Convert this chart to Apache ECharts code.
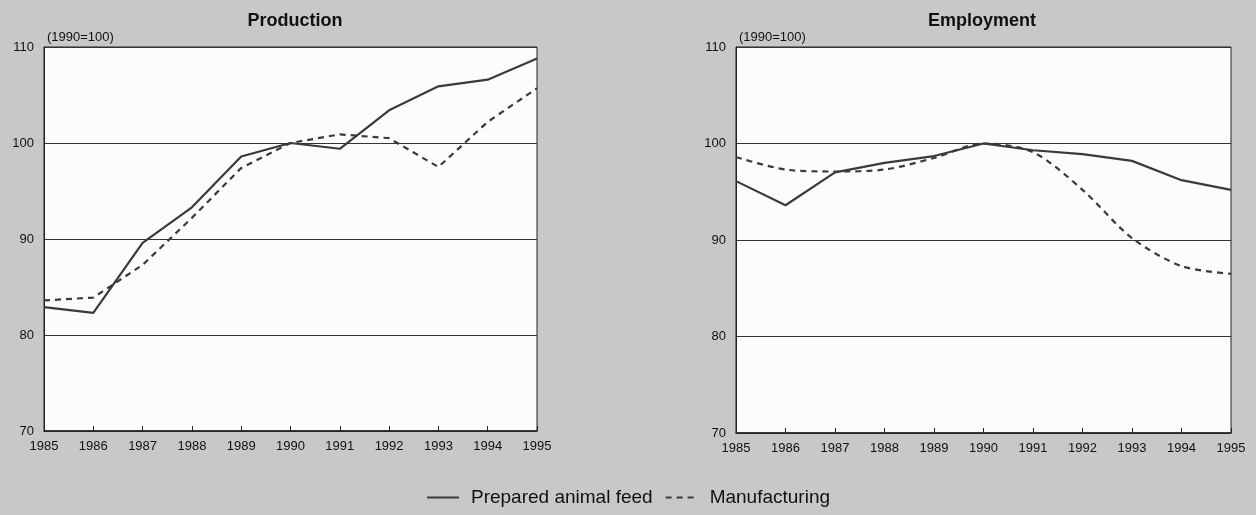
<!DOCTYPE html>
<html><head><meta charset="utf-8">
<script src="https://cdn.jsdelivr.net/npm/echarts@6/dist/echarts.min.js"></script>
<style>html,body{margin:0;padding:0;background:#c8c8c8;}#c{width:1256px;height:515px;}</style>
</head><body><div id="c"></div>
<script>
const years = ['1985','1986','1987','1988','1989','1990','1991','1992','1993','1994','1995'];
const yTicks = [70, 80, 90, 100, 110];
const prodFeed = [82.9, 82.3, 89.6, 93.3, 98.6, 100.0, 99.4, 103.4, 105.9, 106.6, 108.8];
const prodMfg  = [83.6, 83.9, 87.3, 92.2, 97.4, 100.0, 100.9, 100.5, 97.5, 102.2, 105.7];
const empFeed  = [96.1, 93.6, 97.0, 98.0, 98.7, 100.0, 99.3, 98.9, 98.2, 96.2, 95.2];
const empMfg   = [98.6, 97.3, 97.1, 97.3, 98.5, 100.0, 99.1, 95.2, 90.2, 87.3, 86.5];
const seriesNames = ['Prepared animal feed', 'Manufacturing'];
const panelTitles = ['Production', 'Employment'];
const unitLabel = '(1990=100)';

const chart = echarts.init(document.getElementById('c'));
const font = 'Liberation Sans, Arial, sans-serif';
function xAxis(i){
  return {type:'category', gridIndex:i, data:years, boundaryGap:false,
    axisLine:{lineStyle:{color:'#222', width:1.5}},
    axisTick:{inside:true, length:5, lineStyle:{color:'#222'}},
    axisLabel:{color:'#111', fontSize:13, fontFamily:font, margin:9, interval:0},
    splitLine:{show:false}};
}
function yAxis(i){
  return {type:'value', gridIndex:i, min:yTicks[0], max:yTicks[yTicks.length-1], interval:10,
    axisLine:{show:true, lineStyle:{color:'#222'}},
    axisTick:{show:false},
    axisLabel:{color:'#111', fontSize:13, fontFamily:font, margin:10},
    splitLine:{show:true, lineStyle:{color:'#333', width:1}}};
}
const lineCol = '#3a3a3a';
function s(name, data, i, dashed, smooth){
  return {name, type:'line', xAxisIndex:i, yAxisIndex:i, data, showSymbol:false, symbol:'none',
    smooth: smooth || false,
    lineStyle:{color:lineCol, width:2.2, type: dashed ? [6,5] : 'solid'},
    itemStyle:{color:lineCol}};
}
chart.setOption({
  backgroundColor:'#c8c8c8',
  animation:false,
  title:[
    {text:panelTitles[0], left:290, top:7, textAlign:'center', textStyle:{fontSize:18, fontWeight:'bold', color:'#111', fontFamily:font}},
    {text:panelTitles[1], left:977, top:7, textAlign:'center', textStyle:{fontSize:18, fontWeight:'bold', color:'#111', fontFamily:font}},
    {text:unitLabel, left:42, top:26, textStyle:{fontSize:13, fontWeight:'normal', color:'#111', fontFamily:font}},
    {text:unitLabel, left:734, top:26, textStyle:{fontSize:13, fontWeight:'normal', color:'#111', fontFamily:font}}
  ],
  grid:[
    {left:44, right:719, top:47, bottom:84, show:true, backgroundColor:'#fcfcfc', borderColor:'#222', borderWidth:1},
    {left:736, right:25, top:47, bottom:82, show:true, backgroundColor:'#fcfcfc', borderColor:'#222', borderWidth:1}
  ],
  legend:{bottom:3, left:'center', itemWidth:32, itemHeight:2, itemGap:12,
    textStyle:{fontSize:19, color:'#111', fontFamily:font, padding:[0,0,0,7]},
    data:seriesNames},
  xAxis:[xAxis(0), xAxis(1)],
  yAxis:[yAxis(0), yAxis(1)],
  series:[
    s(seriesNames[0], prodFeed, 0, false),
    s(seriesNames[1], prodMfg, 0, true),
    s(seriesNames[0], empFeed, 1, false),
    s(seriesNames[1], empMfg, 1, true, 0.3)
  ]
});
</script></body></html>
